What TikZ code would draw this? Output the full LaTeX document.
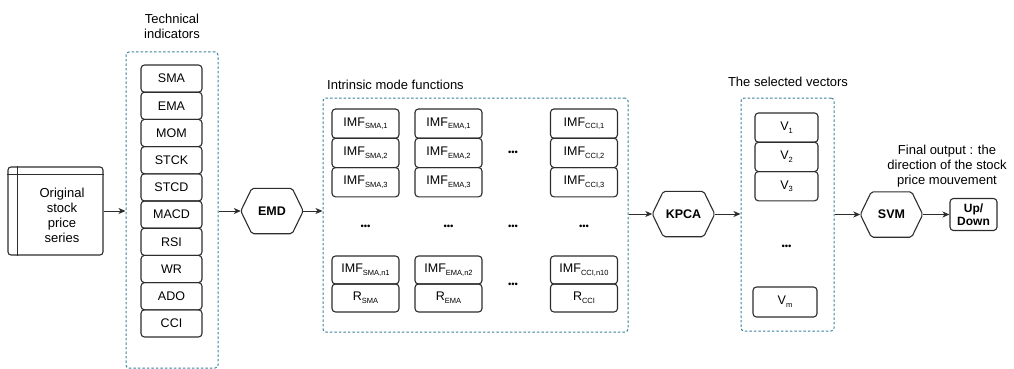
\documentclass[tikz,border=0pt]{standalone}
\usepackage{fontspec}
\setmainfont{Liberation Sans}
\usetikzlibrary{arrows.meta,calc}
\definecolor{grpcol}{RGB}{60,130,160}
\definecolor{boxcol}{RGB}{45,45,45}
\newcommand{\sbs}[1]{\raisebox{-0.4ex}{\fontsize{7.5}{8}\selectfont #1}}
\newcommand{\hexdraw}[1]{\draw[hexline] (#1.west) -- ([xshift=11pt]#1.north west) -- ([xshift=-11pt]#1.north east) -- (#1.east) -- ([xshift=-11pt]#1.south east) -- ([xshift=11pt]#1.south west) -- cycle;}
\tikzset{
  txt/.style={font=\fontsize{13}{15}\selectfont, inner sep=0pt, align=center},
  grp/.style={draw=grpcol, line width=1pt, dash pattern=on 2.5pt off 2pt, rounded corners=3pt, inner sep=0pt},
  ibox/.style={draw=boxcol, line width=1.1pt, rounded corners=3.5pt, inner sep=0pt, font=\fontsize{12.5}{14}\selectfont, minimum width=61pt, minimum height=27.2pt},
  imfbox/.style={ibox, minimum width=67pt, minimum height=29.3pt},
  vbox/.style={ibox, minimum width=63pt, minimum height=29.3pt},
  hexn/.style={inner sep=0pt, font=\bfseries\fontsize{12.5}{14}\selectfont, minimum width=62pt, minimum height=45pt},
  hexline/.style={draw=boxcol, line width=1.1pt, rounded corners=2pt},
  arr/.style={draw=boxcol, line width=1pt, -{Stealth[length=7pt,width=6pt,inset=2pt]}},
  dots/.style={inner sep=0pt, font=\fontsize{9.5}{10}\selectfont},
}
\begin{document}
\begin{tikzpicture}[x=1pt,y=-1pt]
\useasboundingbox (0,0) rectangle (1014,369);
% original series
\node[draw=boxcol, line width=1.1pt, rounded corners=3pt, minimum width=95pt, minimum height=88pt, inner sep=0pt] (orig) at (55.5,211) {};
\draw[boxcol, line width=1.1pt] ([xshift=10pt]orig.north west) -- ([xshift=10pt]orig.south west);
\draw[boxcol, line width=1.1pt] ([yshift=-8pt]orig.north west) -- ([yshift=-8pt]orig.north east);
\node[txt] (origtxt) at (62,215) {Original\\stock\\price\\series};
% technical indicators
\node[txt] (techlab) at (172,26) {Technical\\indicators};
\node[grp, minimum width=92pt, minimum height=316pt] (techbox) at (172,210) {};
\foreach \t [count=\i from 0] in {SMA,EMA,MOM,STCK,STCD,MACD,RSI,WR,ADO,CCI}{
  \node[ibox] (ind\i) at (171.5,{78.6+27.2*\i}) {\t};
}
\draw[arr] (orig.east) -- (orig.east -| techbox.west);
% EMD
\node[hexn] (emd) at (272,211) {EMD};
\hexdraw{emd}
\draw[arr] (techbox.east |- emd.west) -- (emd.west);
% IMF group
\node[txt, anchor=west] (imflab) at (327,85) {Intrinsic mode functions};
\node[grp, minimum width=305pt, minimum height=234pt] (imfgrp) at (475.5,215) {};
\draw[arr] (emd.east) -- (emd.east -| imfgrp.west);
\node[imfbox] (a1) at (365.5,123.6) {IMF\sbs{SMA,1}};
\node[imfbox] (a2) at (365.5,152.9) {IMF\sbs{SMA,2}};
\node[imfbox] (a3) at (365.5,182.2) {IMF\sbs{SMA,3}};
\node[imfbox] (b1) at (448.5,123.6) {IMF\sbs{EMA,1}};
\node[imfbox] (b2) at (448.5,152.9) {IMF\sbs{EMA,2}};
\node[imfbox] (b3) at (448.5,182.2) {IMF\sbs{EMA,3}};
\node[imfbox] (c1) at (584,123.6) {IMF\sbs{CCI,1}};
\node[imfbox] (c2) at (584,152.9) {IMF\sbs{CCI,2}};
\node[imfbox] (c3) at (584,182.2) {IMF\sbs{CCI,3}};
\node[imfbox, minimum height=28pt] (an) at (365.5,270) {IMF\sbs{SMA,n1}};
\node[imfbox, minimum height=28pt] (ar) at (365.5,298) {R\sbs{SMA}};
\node[imfbox, minimum height=28pt] (bn) at (448.5,270) {IMF\sbs{EMA,n2}};
\node[imfbox, minimum height=28pt] (br) at (448.5,298) {R\sbs{EMA}};
\node[imfbox, minimum height=28pt] (cn) at (584,270) {IMF\sbs{CCI,n10}};
\node[imfbox, minimum height=28pt] (cr) at (584,298) {R\sbs{CCI}};
\node[dots] (d1) at (513,153) {•••};
\node[dots] (d2) at (365.5,227) {•••};
\node[dots] (d3) at (448.5,227) {•••};
\node[dots] (d4) at (513,227) {•••};
\node[dots] (d5) at (584,227) {•••};
\node[dots] (d6) at (513,285) {•••};
% KPCA
\node[hexn] (kpca) at (683.5,214) {KPCA};
\hexdraw{kpca}
\draw[arr] (imfgrp.east |- kpca.west) -- (kpca.west);
% selected vectors
\node[txt] (veclab) at (788,82) {The selected vectors};
\node[grp, minimum width=93pt, minimum height=233pt] (vecgrp) at (787.5,214.5) {};
\draw[arr] (kpca.east) -- (kpca.east -| vecgrp.west);
\node[vbox] (v1) at (786.5,127.6) {V\sbs{1}};
\node[vbox] (v2) at (786.5,156.9) {V\sbs{2}};
\node[vbox] (v3) at (786.5,186.2) {V\sbs{3}};
\node[dots] (d7) at (786.5,247) {•••};
\node[vbox, minimum width=64pt, minimum height=30pt] (vm) at (785,302) {V\sbs{m}};
% SVM
\node[hexn] (svm) at (891.5,214.5) {SVM};
\hexdraw{svm}
\draw[arr] (vecgrp.east |- svm.west) -- (svm.west);
\node[txt] (outlab) at (947,166) {Final output : the\\direction of the stock\\price mouvement};
\node[draw=boxcol, line width=1.1pt, rounded corners=3.5pt, inner sep=0pt, minimum width=47pt, minimum height=32pt, align=center, font=\bfseries\fontsize{12}{13.5}\selectfont] (ud) at (973.5,214.5) {Up/\\Down};
\draw[arr] (svm.east) -- (ud.west);
\end{tikzpicture}
\end{document}
